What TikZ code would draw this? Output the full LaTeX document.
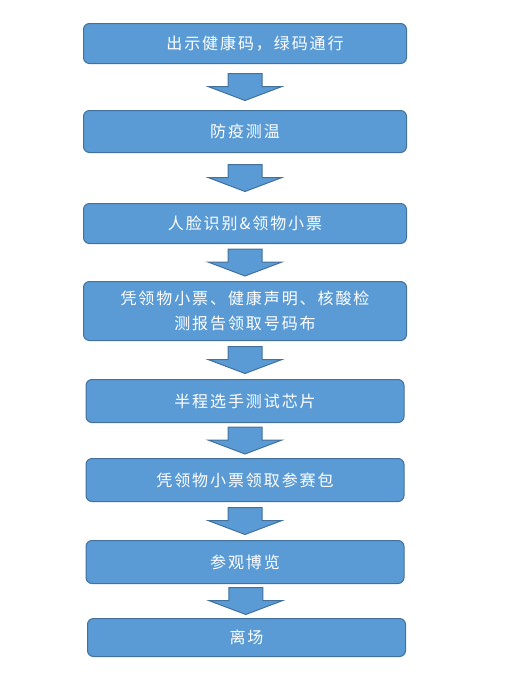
\documentclass[tikz,border=0pt]{standalone}
\usepackage{fontspec}
\newfontfamily\cjk[LetterSpace=12]{Noto Sans CJK SC}
\usetikzlibrary{positioning,calc}

\definecolor{boxfill}{HTML}{5B9BD5}
\definecolor{boxline}{HTML}{41719C}

\begin{document}
\begin{tikzpicture}[x=1pt, y=1pt, node distance=38pt,
  stage/.style={rectangle, rounded corners=6pt, draw=boxline, line width=1pt, fill=boxfill, text=white, font=\cjk\fontsize{16}{25}\selectfont, align=center, minimum width=318pt, minimum height=43pt, inner sep=0pt, outer sep=0pt},
  wide/.style={minimum width=323pt},
  downarrow/.style={draw=boxline, line width=1pt, fill=boxfill, line join=miter}]
  \useasboundingbox (0,0) rectangle (507,-689);

  % Nodes
  \node[stage, wide, minimum height=40pt] (qrcode) at (245,-43.5) {\hspace*{20pt}出示健康码，绿码通行};
  \node[stage, wide, minimum height=42pt, below=47pt of qrcode] (temp) {防疫测温};
  \node[stage, wide, minimum height=40pt, below=51pt of temp] (faceid) {人脸识别\&领物小票};
  \node[stage, wide, minimum height=59pt, below=38pt of faceid] (bib) {凭领物小票、健康声明、核酸检\\测报告领取号码布};
  \node[stage, below=39pt of bib] (chip) {半程选手测试芯片};
  \node[stage, below=36pt of chip] (kit) {凭领物小票领取参赛包};
  \node[stage, below=39pt of kit] (expo) {参观博览};
  \node[stage, minimum height=38pt, below=35pt of expo, xshift=1.5pt] (leave) {离场};

  % Arrows
  \foreach \a/\b in {qrcode/temp, temp/faceid, faceid/bib, bib/chip, chip/kit, kit/expo, expo/leave}{
    \coordinate (mid) at ($(\a.south)!0.5!(\b.north)$);
    \draw[downarrow] ($(mid)+(-17,13.5)$) -- ($(mid)+(17,13.5)$) -- ($(mid)+(17,0.5)$) -- ($(mid)+(37,0.5)$)
      -- ($(mid)+(0,-13.5)$) -- ($(mid)+(-37,0.5)$) -- ($(mid)+(-17,0.5)$) -- cycle;
  }
\end{tikzpicture}
\end{document}
